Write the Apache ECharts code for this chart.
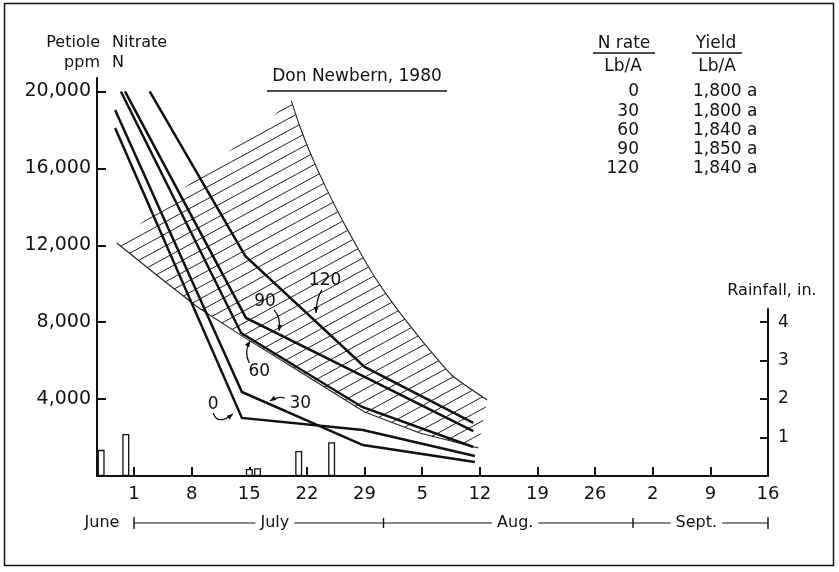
<!DOCTYPE html>
<html>
<head>
<meta charset="utf-8">
<title>Petiole nitrate, Don Newbern 1980</title>
<script src="https://cdn.jsdelivr.net/npm/echarts@6/dist/echarts.min.js"></script>
<style>
  html, body { margin: 0; padding: 0; background: #fff; }
  #chart { width: 839px; height: 572px; }
</style>
</head>
<body>
<div id="chart"></div>
<script>
// Day numbers count from June 30: July 1 = 1, Aug 1 = 32, Sept 1 = 63.
const dayTicks = [1, 8, 15, 22, 29, 36, 43, 50, 57, 64, 71, 78];
const dayTickLabels = ['1', '8', '15', '22', '29', '5', '12', '19', '26', '2', '9', '16'];

const ppmTicks = [4000, 8000, 12000, 16000, 20000];
const ppmTickLabels = ['4,000', '8,000', '12,000', '16,000', '20,000'];
const rainTicks = [1, 2, 3, 4];

// Yield table
const nRates = ['0', '30', '60', '90', '120'];
const yields = ['1,800 a', '1,800 a', '1,840 a', '1,850 a', '1,840 a'];

// Petiole nitrate-N (ppm) by N rate, [day, ppm]
const nitrate0   = [[-1.3, 18100], [14.1, 3020], [28.8, 2390], [42.4, 1040]];
const nitrate30  = [[-1.3, 19040], [14.1, 4370], [28.8, 1610], [42.4, 730]];
const nitrate60  = [[-0.6, 20000], [14.0, 7440], [28.7, 3590], [42.2, 1510]];
const nitrate90  = [[-0.1, 20000], [14.6, 8220], [29.0, 5150], [42.2, 2340]];
const nitrate120 = [[2.9, 20000], [14.5, 11450], [29.0, 5670], [42.2, 2760]];

// Sufficiency band (hatched), upper and lower edges, [day, ppm]
const bandUpper = [[20.1, 19510], [21.2, 18110], [22.4, 16800], [24.2, 15090], [26.4, 13220],
                   [28.5, 11600], [30.0, 10510], [31.7, 9420], [33.3, 8480], [35.4, 7340],
                   [37.3, 6350], [39.7, 5200], [43.9, 3950]];
const bandLower = [[-1.1, 12120], [4.2, 10300], [8.7, 8790], [13.9, 7340], [21.2, 5410],
                   [29.0, 3330], [35.7, 2240], [42.8, 1460]];

// Daily rainfall (inches)
const rainDays = [-3, 0, 15, 16, 21, 25];
const rainInches = [0.68, 1.09, 0.18, 0.20, 0.65, 0.88];

// Month bracket along the date axis
const monthNames = ['June', 'July', 'Aug.', 'Sept.'];
const monthLabelDays = [-2.9, 18.1, 47.3, 69.3];
const monthBracketDays = [1, 31.3, 61.6, 78];

const INK = '#111';
const FONT = '"DejaVu Sans", "Liberation Sans", sans-serif';

// Diagonal hatch tile: one line per tile, joining into continuous lines
function makeHatch() {
  const W = 22, H = 12;
  const c = document.createElement('canvas');
  c.width = W; c.height = H;
  const g = c.getContext('2d');
  g.strokeStyle = '#222';
  g.lineWidth = 1;
  [-H, 0, H].forEach(function (dy) {
    g.beginPath();
    g.moveTo(0, H + dy);
    g.lineTo(W, dy);
    g.stroke();
  });
  return c;
}
const hatchFill = { image: makeHatch(), repeat: 'repeat' };

function renderBand(params, api) {
  const lower = bandLower.map(function (p) { return api.coord(p); });
  const upper = bandUpper.map(function (p) { return api.coord(p); });
  const poly = lower.concat(upper.slice().reverse());
  return {
    type: 'group',
    children: [
      { type: 'polygon', shape: { points: poly }, style: { fill: hatchFill, stroke: null } },
      { type: 'polyline', shape: { points: upper, smooth: 0.2 }, style: { stroke: '#222', lineWidth: 1.1, fill: null } },
      { type: 'polyline', shape: { points: lower }, style: { stroke: '#222', lineWidth: 1.1, fill: null } }
    ]
  };
}

// Rate labels with curved pointer arrows, in [day, ppm]
const notes = [
  { text: '0',   at: [10.6, 3740],  from: [10.6, 3280], via: [11.2, 2600], to: [13.0, 3230] },
  { text: '30',  at: [21.2, 3750],  from: [19.3, 4060], via: [18.5, 4160], to: [17.5, 3900] },
  { text: '60',  at: [16.2, 5410],  from: [15.0, 5880], via: [14.3, 6450], to: [15.1, 7020] },
  { text: '90',  at: [16.9, 9050],  from: [18.0, 8640], via: [18.9, 8220], to: [18.6, 7540] },
  { text: '120', at: [24.2, 10150], from: [23.8, 9680], via: [23.1, 9160], to: [23.1, 8480] }
];

function arrowHead(tip, from, size) {
  const dx = tip[0] - from[0], dy = tip[1] - from[1];
  const len = Math.hypot(dx, dy) || 1;
  const ux = dx / len, uy = dy / len;
  const bx = tip[0] - ux * size, by = tip[1] - uy * size;
  const px = -uy * size * 0.42, py = ux * size * 0.42;
  return [[tip[0], tip[1]], [bx + px, by + py], [bx - px, by - py]];
}

function renderNotes(params, api) {
  const children = [];
  notes.forEach(function (n) {
    const at = api.coord(n.at), a = api.coord(n.from), c = api.coord(n.via), b = api.coord(n.to);
    children.push({
      type: 'text', x: at[0], y: at[1],
      style: { text: n.text, font: '17px ' + FONT, fill: INK, align: 'center', verticalAlign: 'middle',
               textAlign: 'center', textVerticalAlign: 'middle' }
    });
    children.push({
      type: 'bezierCurve',
      shape: { x1: a[0], y1: a[1], x2: b[0], y2: b[1], cpx1: c[0], cpy1: c[1] },
      style: { stroke: INK, lineWidth: 1.3, fill: null }
    });
    children.push({
      type: 'polygon', shape: { points: arrowHead(b, c, 6) }, style: { fill: INK, stroke: null }
    });
  });
  return { type: 'group', children: children };
}

function renderMonths(params, api) {
  const y = api.coord([0, 0])[1] + 47;
  const xs = monthBracketDays.map(function (d) { return api.coord([d, 0])[0]; });
  const children = [{
    type: 'line', shape: { x1: xs[0], y1: y, x2: xs[xs.length - 1], y2: y },
    style: { stroke: INK, lineWidth: 1.2 }
  }];
  xs.forEach(function (x, i) {
    const half = (i === 0 || i === xs.length - 1) ? 6 : 5;
    children.push({
      type: 'line', shape: { x1: x, y1: y - half, x2: x, y2: y + half },
      style: { stroke: INK, lineWidth: 1.4 }
    });
  });
  monthLabelDays.forEach(function (d, i) {
    const x = api.coord([d, 0])[0];
    children.push({
      type: 'text', x: x, y: y,
      style: { text: monthNames[i], font: '16px ' + FONT, fill: INK, align: 'center', verticalAlign: 'middle',
               textAlign: 'center', textVerticalAlign: 'middle', backgroundColor: '#fff', padding: [0, 5] }
    });
  });
  return { type: 'group', children: children };
}

function nitrateLine(name, data) {
  return {
    name: name, type: 'line', xAxisIndex: 0, yAxisIndex: 0, data: data,
    symbol: 'none', silent: true, z: 4,
    lineStyle: { color: INK, width: 2.5, join: 'miter' }
  };
}

function txt(text, x, y, size, align) {
  return {
    type: 'text', x: x, y: y, silent: true,
    style: { text: text, font: size + 'px ' + FONT, fill: INK,
             align: align, verticalAlign: 'middle', textAlign: align, textVerticalAlign: 'middle' }
  };
}
function rule(x1, x2, y) {
  return { type: 'line', silent: true, shape: { x1: x1, y1: y, x2: x2, y2: y }, style: { stroke: INK, lineWidth: 1.3 } };
}

const graphics = [
  { type: 'rect', silent: true, shape: { x: 4.5, y: 3.5, width: 829, height: 562 },
    style: { fill: null, stroke: INK, lineWidth: 1.5 } },
  txt('Petiole', 100, 43, 16, 'right'),
  txt('Nitrate', 112, 43, 16, 'left'),
  txt('ppm', 100, 63, 16, 'right'),
  txt('N', 112, 63, 16, 'left'),
  txt('Don Newbern, 1980', 357, 77, 17, 'center'),
  rule(267, 447, 91),
  txt('N rate', 624, 44, 17, 'center'),
  rule(593, 655, 53),
  txt('Lb/A', 623, 67, 17, 'center'),
  txt('Yield', 716, 44, 17, 'center'),
  rule(692, 742, 53),
  txt('Lb/A', 717, 67, 17, 'center'),
  txt('Rainfall, in.', 772, 291, 16, 'center')
];
const rowY = [92, 112, 131, 150, 169];
nRates.forEach(function (r, i) { graphics.push(txt(r, 639, rowY[i], 17, 'right')); });
yields.forEach(function (v, i) { graphics.push(txt(v, 693, rowY[i], 17, 'left')); });

const axisLineStyle = { color: INK, width: 2 };

const option = {
  animation: false,
  backgroundColor: '#fff',
  grid: [
    { left: 97, width: 671, top: 78, height: 398 },
    { left: 97, width: 671, top: 309, height: 167 }
  ],
  xAxis: [
    {
      gridIndex: 0, type: 'value', min: -3.5, max: 78,
      axisLine: { onZero: false, lineStyle: axisLineStyle },
      axisTick: { inside: true, length: 9, customValues: dayTicks, lineStyle: { color: INK, width: 2 } },
      axisLabel: {
        customValues: dayTicks, margin: 9, fontSize: 18, fontFamily: FONT, color: INK,
        formatter: function (v) { return dayTickLabels[dayTicks.indexOf(v)]; }
      },
      splitLine: { show: false }
    },
    { gridIndex: 1, type: 'value', min: -3.5, max: 78, show: false }
  ],
  yAxis: [
    {
      gridIndex: 0, type: 'value', min: 0, max: 20700,
      axisLine: { show: true, onZero: false, lineStyle: axisLineStyle },
      axisTick: { show: true, inside: true, length: 9, customValues: ppmTicks, lineStyle: { color: INK, width: 2 } },
      axisLabel: {
        customValues: ppmTicks, margin: 6, fontSize: 19, fontFamily: FONT, color: INK,
        formatter: function (v) { return ppmTickLabels[ppmTicks.indexOf(v)]; }
      },
      splitLine: { show: false }
    },
    {
      gridIndex: 1, type: 'value', position: 'right', min: 0, max: 4.34,
      axisLine: { show: true, onZero: false, lineStyle: axisLineStyle },
      axisTick: { show: true, inside: true, length: 8, customValues: rainTicks, lineStyle: { color: INK, width: 2 } },
      axisLabel: { customValues: rainTicks, margin: 10, fontSize: 17, fontFamily: FONT, color: INK },
      splitLine: { show: false }
    }
  ],
  series: [
    {
      name: 'band', type: 'custom', xAxisIndex: 0, yAxisIndex: 0, data: [[0, 0]],
      renderItem: renderBand, silent: true, z: 1
    },
    {
      name: 'Rainfall', type: 'bar', xAxisIndex: 1, yAxisIndex: 1,
      data: rainDays.map(function (d, i) { return [d, rainInches[i]]; }),
      barWidth: 7, silent: true, z: 2,
      itemStyle: { color: '#fff', borderColor: INK, borderWidth: 1.3 }
    },
    nitrateLine('0', nitrate0),
    nitrateLine('30', nitrate30),
    nitrateLine('60', nitrate60),
    nitrateLine('90', nitrate90),
    nitrateLine('120', nitrate120),
    {
      name: 'notes', type: 'custom', xAxisIndex: 0, yAxisIndex: 0, data: [[0, 0]],
      renderItem: renderNotes, silent: true, clip: false, z: 5
    },
    {
      name: 'months', type: 'custom', xAxisIndex: 0, yAxisIndex: 0, data: [[0, 0]],
      renderItem: renderMonths, silent: true, clip: false, z: 5
    }
  ],
  graphic: graphics
};

const chart = echarts.init(document.getElementById('chart'), null, { renderer: 'canvas' });
chart.setOption(option);
</script>
</body>
</html>
